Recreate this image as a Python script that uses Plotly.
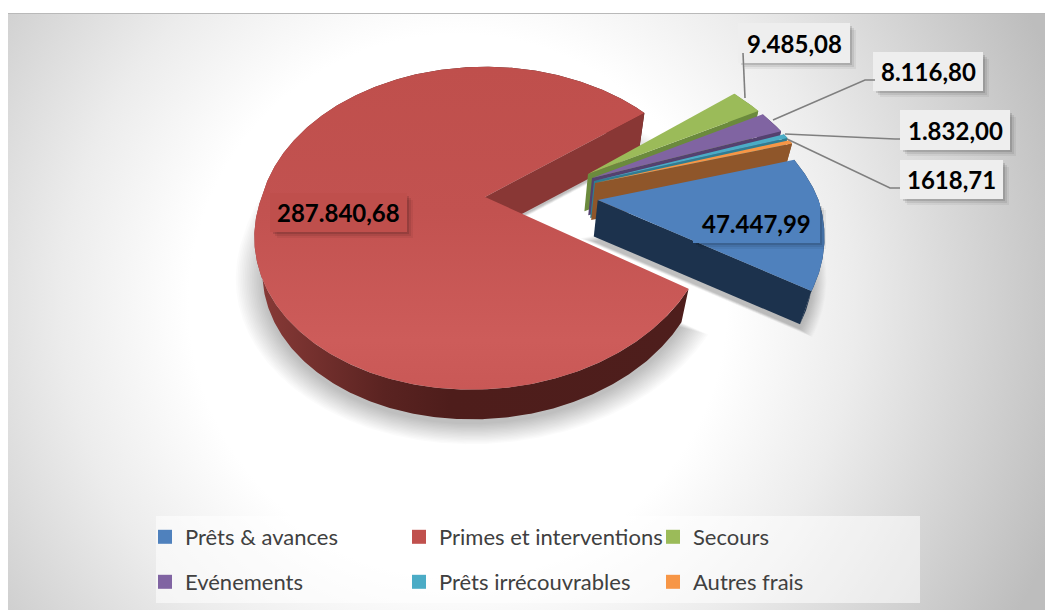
import base64
import numpy as np
import plotly.graph_objects as go

# ---- data -------------------------------------------------------------
categories = ["Prêts & avances", "Primes et interventions", "Secours",
              "Evénements", "Prêts irrécouvrables", "Autres frais"]
values = [47447.99, 287840.68, 9485.08, 8116.80, 1832.00, 1618.71]
value_labels = ["47.447,99", "287.840,68", "9.485,08", "8.116,80", "1.832,00", "1618,71"]

# ---- style ------------------------------------------------------------
top_colors = ["#4f81bd", "#c0504d", "#9bbb59", "#8064a2", "#4bacc6", "#f79646"]
wall_colors = ["#1c324d", "#893735", "#6b8a3d", "#54416f", "#2f7d92", "#8f562a"]
apex_px = [(598, 200), (485, 197), (588, 174), (592, 178), (594, 181), (595, 183)]
radius = [0.975, 0.99, 1.0, 1.0, 1.0, 1.0]
paint_order = [1, 2, 3, 4, 5, 0]
START_ANGLE = 15.9   # degrees, first slice start, clockwise
CX, CY, A, B, K, SHEAR = 485.0, 197.0, 225.6, 157.0, 0.195, 14.0
SCALE, DEPTH = 0.965, 36.5
W, H = 1051, 610


def project(X, Y, px, py):
    yy = np.asarray(Y) + py
    d = 1 + K * yy
    return CX + A * (np.asarray(X) + px) / d + SHEAR * np.minimum(yy, 0), CY - B * yy / d


def unproject(x, y):
    u = (CY - y) / B
    Y = u / (1 - K * u)
    X = (x - CX) / A * (1 + K * Y)
    return X, Y


def low(x, y):
    return CX + (x - CX) * SCALE, CY + (y - CY) * SCALE + DEPTH


fig = go.Figure()


def poly(x, y, color=None, grad=None):
    kw = dict(fillgradient=grad) if grad else dict(fillcolor=color)
    fig.add_trace(go.Scatter(x=list(x), y=list(y), mode="lines", fill="toself",
                             line=dict(width=0), hoverinfo="skip", showlegend=False, **kw))


total = sum(values)
spans = [v / total * 360 for v in values]
starts = START_ANGLE - np.concatenate([[0], np.cumsum(spans)[:-1]])
geom = []
for i in range(len(values)):
    px, py = unproject(*apex_px[i])
    th = np.radians(np.linspace(starts[i], starts[i] - spans[i], max(int(spans[i] * 2), 12)))
    ax, ay = project(radius[i] * np.cos(th), radius[i] * np.sin(th), px, py)
    x0, y0 = project(0.0, 0.0, px, py)
    geom.append((float(x0), float(y0), ax, ay))

# soft shadow under the large slices
for e in range(16):
    for i in (0, 1):
        x0, y0, ax, ay = geom[i]
        lx, ly = low(np.r_[x0, ax], np.r_[y0, ay])
        mx, my = (lx.min() + lx.max()) / 2, (ly.min() + ly.max()) / 2
        f = 1 + e * 0.0085
        poly(mx + (lx - mx) * f, my + (ly - my) * f + 5, "rgba(0,0,0,0.017)")

# slices painted back to front
for i in paint_order:
    x0, y0, ax, ay = geom[i]
    lax, lay = low(ax, ay)
    lx0, ly0 = low(x0, y0)
    if i == 1:
        grad = dict(type="horizontal", colorscale=[[0, "#8a3b38"], [0.3, "#5a2321"], [0.45, "#4e1d1b"], [1, "#4e1e1c"]])
        poly(np.r_[ax, lax[::-1]], np.r_[ay, lay[::-1]], grad=grad)
    else:
        poly(np.r_[ax, lax[::-1]], np.r_[ay, lay[::-1]], wall_colors[i])
    poly([x0, ax[-1], lax[-1], lx0], [y0, ay[-1], lay[-1], ly0], wall_colors[i])
    if i == 1:
        grad = dict(type="vertical", colorscale=[[0, "#c95856"], [0.15, "#cd5c5a"], [0.55, "#c25250"], [1, "#bf4f4c"]])
        poly(np.r_[x0, ax], np.r_[y0, ay], grad=grad)
    else:
        poly(np.r_[x0, ax], np.r_[y0, ay], top_colors[i])

# legend entries (two native legends, one per row)
for i, name in enumerate(categories):
    fig.add_trace(go.Scatter(x=[None], y=[None], mode="markers", name=name,
                             marker=dict(symbol="square", size=14, color=top_colors[i]),
                             legend="legend" if i in (0, 1, 2) else "legend2"))

# data labels
boxes = {2: (738, 23, 850, 63), 3: (873, 52, 983, 91), 4: (900, 110, 1010, 150),
         5: (900, 160, 1003, 199), 0: (693, 203, 820, 243), 1: (270, 193, 407, 232)}
box_fill = {2: "#eeeeee", 3: "#eeeeee", 4: "#eeeeee", 5: "#eeeeee", 0: "#4f81bd", 1: "#bf4f4c"}
shapes = []
for i, (x0, y0, x1, y1) in boxes.items():
    for o, a in ((7, 0.05), (5, 0.08), (3, 0.12)):
        shapes.append(dict(type="rect", x0=x0 + o, y0=y0 + o, x1=x1 + o - 1, y1=y1 + o - 1,
                           fillcolor=f"rgba(0,0,0,{a})", line_width=0, layer="above"))
    shapes.append(dict(type="rect", x0=x0, y0=y0, x1=x1, y1=y1, fillcolor=box_fill[i],
                       line_width=0, layer="above"))
leaders = ["M743,53 L745,98", "M773,120 L865,80 L875,80",
           "M785,134 L895,139 L900,139", "M787,139 L890,188 L900,188"]
for p in leaders:
    shapes.append(dict(type="path", path=p, line=dict(color="#7f7f7f", width=1.6), layer="above"))
# legend panel and frame
shapes.append(dict(type="rect", x0=156, y0=516, x1=920, y1=603, fillcolor="rgba(255,255,255,0.55)",
                   line_width=0, layer="above"))
shapes.append(dict(type="line", x0=8, y0=13.5, x1=1045, y1=13.5, line=dict(color="#b9b9b9", width=1.2), layer="above"))

annotations = [dict(x=(b[0] + b[2]) / 2, y=(b[1] + b[3]) / 2, text=f"<b>{value_labels[i]}</b>", showarrow=False,
                    font=dict(family="Lato, Carlito, sans-serif", size=24, color="#000000"))
               for i, b in boxes.items()]

# background gradient
svg = (f'<svg xmlns="http://www.w3.org/2000/svg" width="{W-14}" height="{H-13}"><defs>'
       f'<radialGradient id="g" gradientUnits="userSpaceOnUse" cx="450" cy="290" r="640">'
       '<stop offset="0" stop-color="#ffffff"/><stop offset="0.42" stop-color="#ffffff"/>'
       '<stop offset="0.62" stop-color="#ececec"/><stop offset="1" stop-color="#bdbdbd"/>'
       f'</radialGradient></defs><rect width="100%" height="100%" fill="url(#g)"/></svg>')
bg = "data:image/svg+xml;base64," + base64.b64encode(svg.encode()).decode()

legend_common = dict(orientation="h", entrywidth=209, entrywidthmode="pixels", xanchor="left", yanchor="middle",
                     bgcolor="rgba(0,0,0,0)", font=dict(family="Lato, Carlito, sans-serif", size=22, color="#404040"),
                     x=145 / W, traceorder="normal", itemclick=False, itemdoubleclick=False)
fig.update_layout(
    width=W, height=H, autosize=False,
    margin=dict(l=0, r=0, t=0, b=0),
    paper_bgcolor="#ffffff", plot_bgcolor="rgba(0,0,0,0)",
    xaxis=dict(range=[0, W], visible=False, fixedrange=True),
    yaxis=dict(range=[H, 0], visible=False, fixedrange=True),
    showlegend=True,
    legend=dict(y=1 - 537 / H, **legend_common),
    legend2=dict(y=1 - 582 / H, **legend_common),
    shapes=shapes, annotations=annotations,
    images=[dict(source=bg, xref="x", yref="y", x=8, y=13, sizex=W - 14, sizey=H - 13,
                 xanchor="left", yanchor="top", sizing="stretch", layer="below")],
)
fig.write_html("out.html", config=dict(displayModeBar=False),
               post_script="document.body.style.margin='0';document.body.style.overflow='hidden';")
